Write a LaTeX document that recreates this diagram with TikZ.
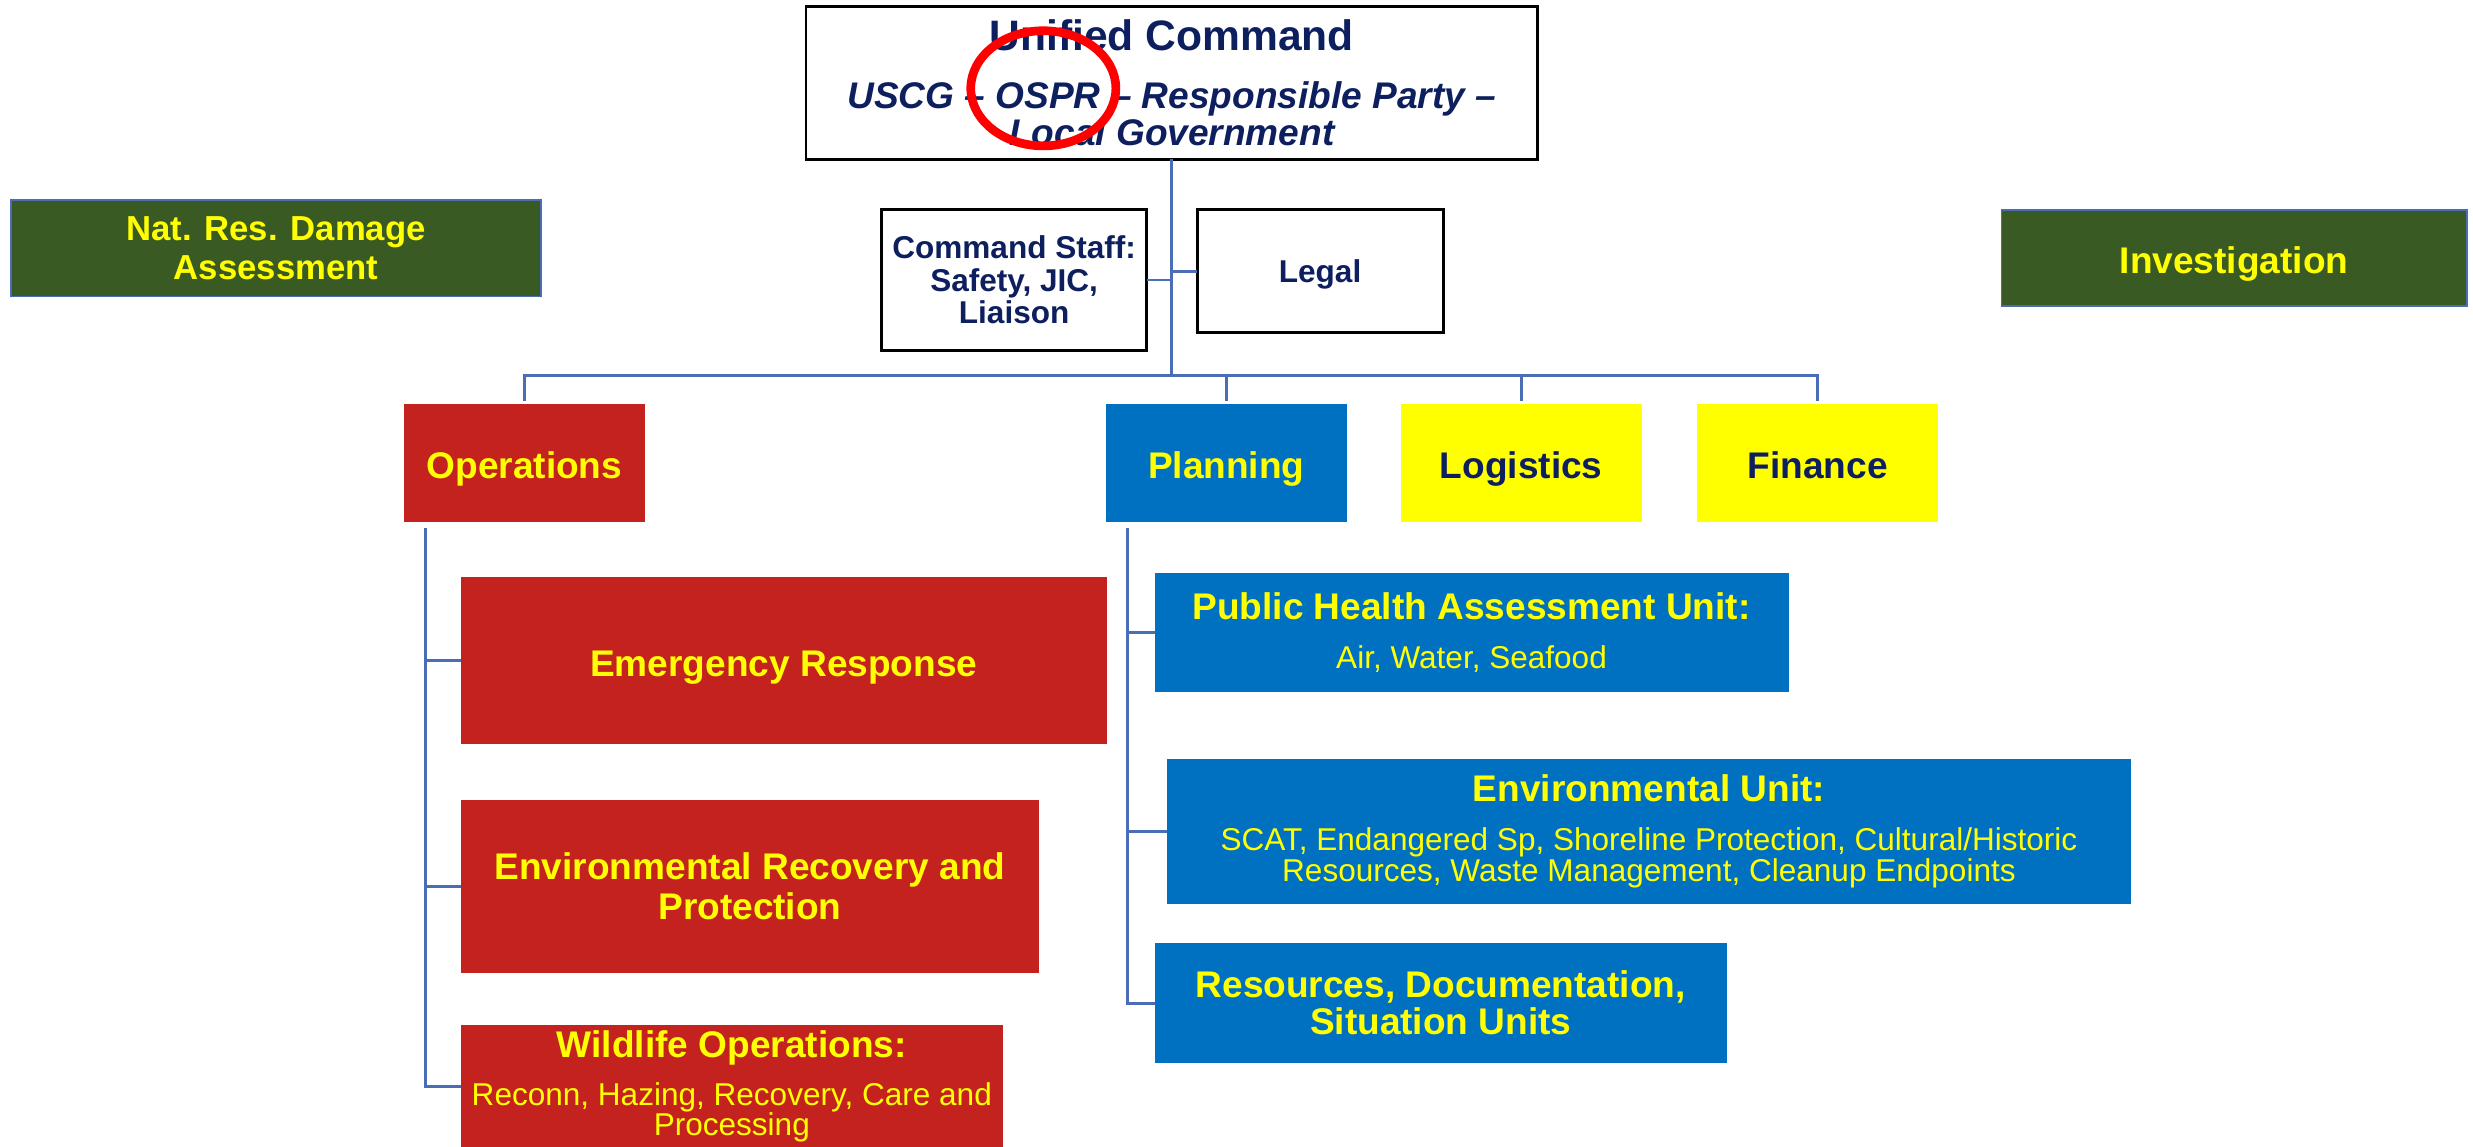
\documentclass[tikz,border=0pt]{standalone}
\usepackage{fontspec}
\setmainfont{Liberation Sans}
\definecolor{navy}{HTML}{0D1F5E}
\definecolor{ored}{HTML}{C4221F}
\definecolor{pblue}{HTML}{0070C0}
\definecolor{lyel}{HTML}{FFFF00}
\definecolor{dgreen}{HTML}{3A5A24}
\definecolor{cline}{HTML}{4A6DB5}
\newcommand\fsz[2]{\fontsize{#1}{#2}\selectfont}
\begin{document}
\begin{tikzpicture}[x=1pt,y=-1pt,
  box/.style={anchor=north west, inner sep=0pt, outer sep=0pt, align=center},
  wbox/.style={box, draw=black, line width=1.8pt, fill=white, text=navy},
  rbox/.style={box, fill=ored, text=lyel},
  bbox/.style={box, fill=pblue, text=lyel},
  ybox/.style={box, fill=lyel, text=navy},
  gbox/.style={box, fill=dgreen, draw=cline, line width=1.2pt, text=lyel},
  conn/.style={draw=cline, line width=1.8pt},
  big/.style={font=\bfseries\fsz{23.5}{25}},
  oneline/.style={big, text height=19.8pt, text depth=0pt}
]
\useasboundingbox (0,0) rectangle (1568,727);
\fill[white] (0,0) rectangle (1568,727);
\clip (0,0) rectangle (1568,727);

% Unified command
\node[wbox, minimum width=464, minimum height=97, font=\bfseries\fsz{23.5}{23.6}] (uc) at (511,4)
  {\fsz{27}{28}Unified Command\\[13pt]\itshape USCG – OSPR – Responsible Party –\\\itshape Local Government};
\draw[red, line width=5.5pt] (661.5,56) ellipse [x radius=46, y radius=36.5];

% command staff and legal
\node[wbox, minimum width=168, minimum height=89, font=\bfseries\fsz{20}{20.5}] (cs) at (559,133)
  {Command Staff:\\Safety, JIC,\\Liaison};
\node[wbox, minimum width=156, minimum height=78, font=\bfseries\fsz{20}{20.5}, text height=14.4pt, text depth=0pt] (legal) at (759,133) {Legal};

% side boxes
\node[gbox, minimum width=336, minimum height=61, font=\bfseries\fsz{22}{25}] (nrda) at (7,127)
  {Nat. Res. Damage\\Assessment};
\node[gbox, minimum width=295, minimum height=61, oneline] (inv) at (1269,133) {Investigation};

% sections
\node[rbox, minimum width=153, minimum height=75, oneline] (ops) at (256,256) {Operations};
\node[bbox, minimum width=153, minimum height=75, oneline] (plan) at (701,256) {Planning};
\node[ybox, minimum width=153, minimum height=75, oneline] (log) at (888,256) {Logistics};
\node[ybox, minimum width=153, minimum height=75, oneline] (fin) at (1076,256) {Finance};

% operations children
\node[rbox, minimum width=410, minimum height=106, oneline] (er) at (292,366) {Emergency Response};
\node[rbox, minimum width=367, minimum height=110, big] (erp) at (292,507)
  {Environmental Recovery and\\Protection};
\node[rbox, minimum width=344, minimum height=78, font=\bfseries\fsz{23.5}{19.5}] (wild) at (292,650)
  {Wildlife Operations:\\[10.5pt]\mdseries\fsz{20}{19.5}Reconn, Hazing, Recovery, Care and\\\mdseries\fsz{20}{19.5}Processing};

% planning children
\node[bbox, minimum width=402, minimum height=76, font=\bfseries\fsz{23.5}{21}] (pha) at (732,363)
  {Public Health Assessment Unit:\\[10pt]\mdseries\fsz{20}{21}Air, Water, Seafood};
\node[bbox, minimum width=611, minimum height=92, font=\bfseries\fsz{23.5}{20}] (eu) at (740,481)
  {Environmental Unit:\\[11pt]\mdseries\fsz{20}{20}SCAT, Endangered Sp, Shoreline Protection, Cultural/Historic\\\mdseries\fsz{20}{20}Resources, Waste Management, Cleanup Endpoints};
\node[bbox, minimum width=363, minimum height=76, font=\bfseries\fsz{23.5}{23.5}] (res) at (732,598)
  {Resources, Documentation,\\Situation Units};

% connectors
\coordinate (bus) at (743,238);
\draw[conn] (uc.south) -- (bus);
\draw[conn] (cs.east) -- (cs.east -| uc.south);
\draw[conn] (legal.west) -- (legal.west -| uc.south);
\draw[conn, shorten <=2pt, shorten >=2pt] (ops.north) |- (bus) -| (fin.north);
\draw[conn, shorten >=2pt] (plan.north |- bus) -- (plan.north);
\draw[conn, shorten >=2pt] (log.north |- bus) -- (log.north);

\coordinate (obr) at (270,335);
\draw[conn] (obr) |- (er.west);
\draw[conn] (obr) |- (erp.west);
\draw[conn] (obr) |- (wild.west);

\coordinate (pbr) at (715,335);
\draw[conn] (pbr) |- (pha.west);
\draw[conn] (pbr) |- (eu.west);
\draw[conn] (pbr) |- (res.west);
\end{tikzpicture}
\end{document}
